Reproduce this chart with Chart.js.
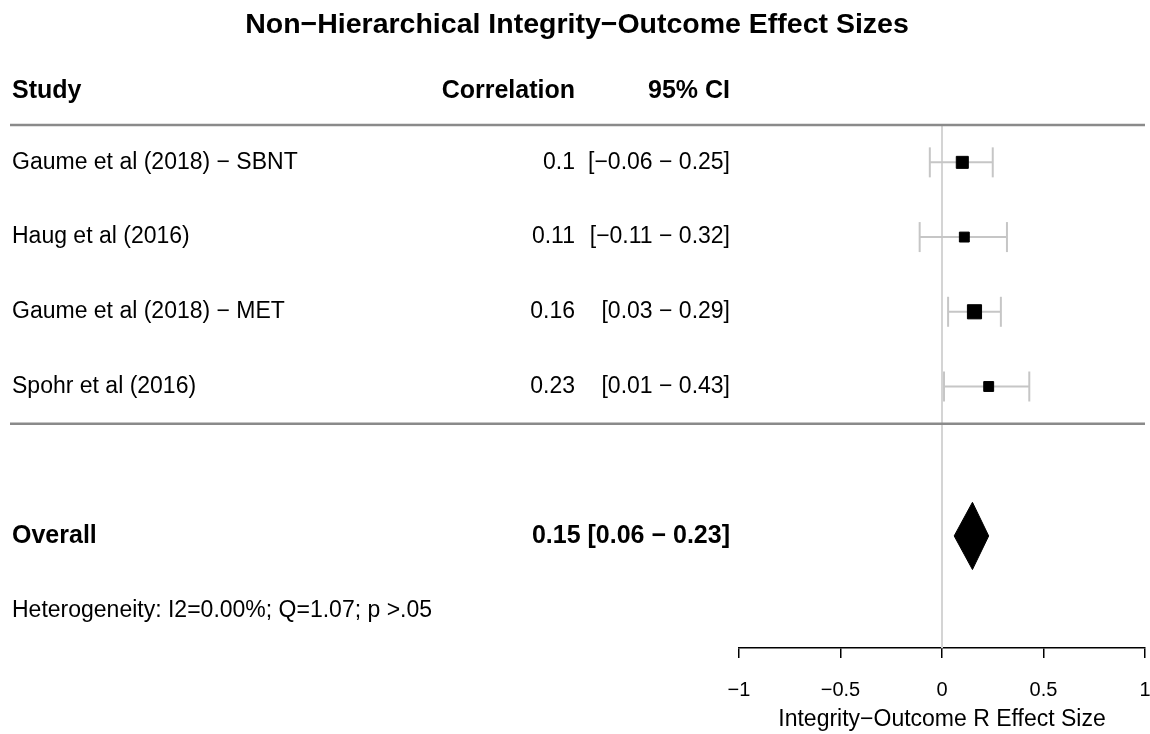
<!DOCTYPE html>
<html>
<head>
<meta charset="utf-8">
<script src="https://cdn.jsdelivr.net/npm/chart.js@4.4.0/dist/chart.umd.min.js"></script>
<style>
  html, body { margin: 0; padding: 0; background: #fff; }
  canvas { display: block; }
</style>
</head>
<body>
<canvas id="forest" width="1150" height="734"></canvas>
<script>
const studies = [
  "Gaume et al (2018) \u2212 SBNT",
  "Haug et al (2016)",
  "Gaume et al (2018) \u2212 MET",
  "Spohr et al (2016)",
];
const correlations = [0.1, 0.11, 0.16, 0.23];
const ciLower = [-0.06, -0.11, 0.03, 0.01];
const ciUpper = [0.25, 0.32, 0.29, 0.43];
const overallR = 0.15;
const overallLower = 0.06;
const overallUpper = 0.23;
const heterogeneity = "Heterogeneity: I2=0.00%; Q=1.07; p >.05";
const xTicks = [-1, -0.5, 0, 0.5, 1];

const FONT = "'Liberation Sans', Arial, Helvetica, sans-serif";
const CI_GREY = "#c6c6c6";
const markerRadius = [8.5, 7, 10, 7];

const fmt = (v) => String(v).replace("-", "\u2212");
const ciText = (lo, hi) => "[" + fmt(lo) + " \u2212 " + fmt(hi) + "]";

// row positions on the (hidden) y scale
const rowY = (i) => i + 0.5;
const headerY = -0.45;
const bottomRuleY = studies.length;
const overallY = 5.5;
const hetY = 6.5;

const ciSets = studies.map((s, i) => ({
  data: [
    { x: ciLower[i], y: rowY(i) },
    { x: ciUpper[i], y: rowY(i) },
  ],
  order: 2,
  showLine: true,
  borderColor: CI_GREY,
  borderWidth: 2,
  pointStyle: "line",
  rotation: 90,
  pointRadius: 15,
  pointBorderColor: CI_GREY,
  pointBorderWidth: 2,
}));

const pointSet = {
  data: studies.map((s, i) => ({ x: correlations[i], y: rowY(i) })),
  order: 0,
  pointStyle: "rect",
  pointRadius: markerRadius,
  backgroundColor: "#000",
  borderColor: "#000",
  borderWidth: 1,
};

const halfH = 0.45;
const diamondSet = {
  data: [
    { x: overallLower, y: overallY },
    { x: overallR, y: overallY - halfH },
    { x: overallUpper, y: overallY },
    { x: overallR, y: overallY + halfH },
    { x: overallLower, y: overallY },
  ],
  order: 1,
  showLine: true,
  fill: "shape",
  backgroundColor: "#000",
  borderColor: "#000",
  borderWidth: 1,
  pointRadius: 0,
  tension: 0,
};

const tablePlugin = {
  id: "forestTable",
  beforeDatasetsDraw(chart) {
    const { ctx, chartArea, scales: { x, y } } = chart;
    ctx.save();
    // zero line
    ctx.strokeStyle = "#d4d4d4";
    ctx.lineWidth = 2;
    ctx.beginPath();
    ctx.moveTo(x.getPixelForValue(0), y.getPixelForValue(0));
    ctx.lineTo(x.getPixelForValue(0), chartArea.bottom);
    ctx.stroke();
    // rules
    ctx.strokeStyle = "#8a8a8a";
    ctx.lineWidth = 2.5;
    [0, bottomRuleY].forEach((v) => {
      const py = y.getPixelForValue(v);
      ctx.beginPath();
      ctx.moveTo(10, py);
      ctx.lineTo(chartArea.right, py);
      ctx.stroke();
    });
    ctx.restore();
  },
  afterDraw(chart) {
    const { ctx, scales: { y } } = chart;
    ctx.save();
    ctx.fillStyle = "#000";
    ctx.textBaseline = "middle";

    ctx.font = "bold 28.5px " + FONT;
    ctx.textAlign = "center";
    ctx.fillText("Non\u2212Hierarchical Integrity\u2212Outcome Effect Sizes", 577, 25);

    const hy = y.getPixelForValue(headerY);
    ctx.font = "bold 25px " + FONT;
    ctx.textAlign = "left";
    ctx.fillText("Study", 12, hy);
    ctx.textAlign = "right";
    ctx.fillText("Correlation", 575, hy);
    ctx.fillText("95% CI", 730, hy);

    ctx.font = "23px " + FONT;
    studies.forEach((s, i) => {
      const py = y.getPixelForValue(rowY(i));
      ctx.textAlign = "left";
      ctx.fillText(s, 12, py);
      ctx.textAlign = "right";
      ctx.fillText(fmt(correlations[i]), 575, py);
      ctx.fillText(ciText(ciLower[i], ciUpper[i]), 730, py);
    });

    const oy = y.getPixelForValue(overallY);
    ctx.font = "bold 25px " + FONT;
    ctx.textAlign = "left";
    ctx.fillText("Overall", 12, oy);
    ctx.textAlign = "right";
    ctx.fillText(fmt(overallR) + " " + ciText(overallLower, overallUpper), 730, oy);

    ctx.font = "23px " + FONT;
    ctx.textAlign = "left";
    ctx.fillText(heterogeneity, 12, y.getPixelForValue(hetY));
    ctx.restore();
  },
};

new Chart(document.getElementById("forest").getContext("2d"), {
  type: "scatter",
  data: { datasets: [pointSet, diamondSet, ...ciSets] },
  options: {
    responsive: false,
    animation: false,
    layout: {
      autoPadding: false,
      padding: { left: 739, right: 5, top: 125, bottom: 0 },
    },
    plugins: {
      legend: { display: false },
      tooltip: { enabled: false },
    },
    scales: {
      x: {
        type: "linear",
        min: -1,
        max: 1,
        afterBuildTicks: (scale) => {
          scale.ticks = xTicks.map((v) => ({ value: v }));
        },
        afterFit: (scale) => {
          scale.height = 86;
          scale.paddingLeft = 0;
          scale.paddingRight = 0;
        },
        ticks: {
          color: "#000",
          font: { family: FONT, size: 20 },
          padding: 20,
          maxRotation: 0,
          callback: (v) => fmt(v),
        },
        grid: {
          drawOnChartArea: false,
          drawTicks: true,
          tickLength: 10,
          color: "#000",
          lineWidth: 1.5,
        },
        border: { display: true, color: "#000", width: 1.5 },
        title: {
          display: true,
          text: "Integrity\u2212Outcome R Effect Size",
          color: "#000",
          font: { family: FONT, size: 23 },
          padding: { top: 0, bottom: 1 },
        },
      },
      y: {
        type: "linear",
        display: false,
        reverse: true,
        min: 0,
        max: 7,
      },
    },
  },
  plugins: [tablePlugin],
});
</script>
</body>
</html>
